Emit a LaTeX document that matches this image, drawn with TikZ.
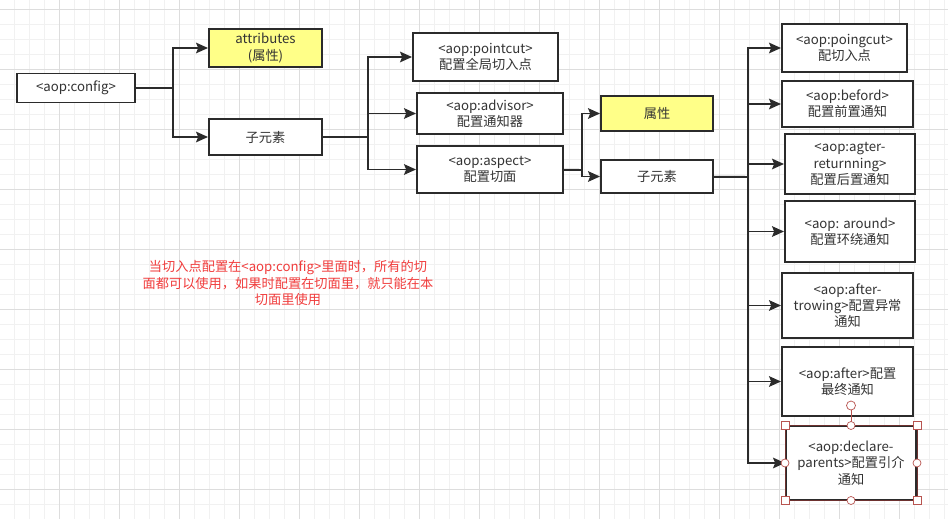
\documentclass[tikz,border=0pt]{standalone}
\usepackage{fontspec}
\setmainfont{Noto Sans CJK SC}
\usepackage{tikz}
\usetikzlibrary{shapes,arrows,arrows.meta,calc}
\definecolor{boxline}{HTML}{2B2B2B}
\definecolor{attrfill}{HTML}{FFFF88}
\definecolor{notered}{HTML}{F03C3C}
\definecolor{gridminor}{HTML}{F1F1F1}
\definecolor{gridmajor}{HTML}{DDDDDD}
\definecolor{selred}{HTML}{B85450}
\tikzstyle{line} = [draw, line width=1.4pt, color=boxline, -{Stealth[length=8.5pt, width=7.5pt, inset=1.5pt]}]
\tikzstyle{wire} = [draw, line width=1.4pt, color=boxline]
\tikzstyle{block} = [draw=boxline, line width=1.4pt, fill=white, rectangle, text centered, align=center, inner sep=1pt, text=black!80, font=\fontsize{9.4pt}{11.6pt}\selectfont]
\tikzstyle{attr} = [block, fill=attrfill]
\tikzstyle{handle} = [draw=selred, fill=white, line width=0.5pt]

\begin{document}
\begin{tikzpicture}[x=0.025cm, y=-0.025cm]
        \useasboundingbox (0,0) rectangle (948,519);
        % background grid
        \foreach \gx in {-1,14,...,948} \draw[gridminor, line width=0.4pt] (\gx,0) -- (\gx,519);
        \foreach \gy in {9,24,...,519} \draw[gridminor, line width=0.4pt] (0,\gy) -- (948,\gy);
        \foreach \gx in {59,119,...,948} \draw[gridmajor, line width=0.4pt] (\gx,0) -- (\gx,519);
        \foreach \gy in {9,69,...,519} \draw[gridmajor, line width=0.4pt] (0,\gy) -- (948,\gy);

        \node[block, minimum width=118*0.025cm, minimum height=29*0.025cm] (config) at (76,88) {<aop:config>};
        \node[attr, minimum width=113*0.025cm, minimum height=38*0.025cm] (attrs) at (265.5,48) {attributes\\(属性)};
        \node[block, minimum width=113*0.025cm, minimum height=36*0.025cm] (sub1) at (265.5,137) {子元素};

        \node[block, minimum width=145*0.025cm, minimum height=48*0.025cm] (pointcut) at (485.5,57) {<aop:pointcut>\\配置全局切入点};
        \node[block, minimum width=146*0.025cm, minimum height=41*0.025cm] (advisor) at (490,113.5) {<aop:advisor>\\配置通知器};
        \node[block, minimum width=146*0.025cm, minimum height=47*0.025cm] (aspect) at (490,169.5) {<aop:aspect>\\配置切面};

        \node[attr, minimum width=112*0.025cm, minimum height=35*0.025cm] (props) at (657,113.5) {属性};
        \node[block, minimum width=112*0.025cm, minimum height=33*0.025cm] (sub2) at (657,176.5) {子元素};

        \node[block, minimum width=125*0.025cm, minimum height=48*0.025cm] (poing) at (844.5,48) {<aop:poingcut>\\配切入点};
        \node[block, minimum width=131*0.025cm, minimum height=46*0.025cm] (before) at (847.5,104) {<aop:beford>\\配置前置通知};
        \node[block, minimum width=130*0.025cm, minimum height=60*0.025cm] (returning) at (850,164) {<aop:agter-\\returnning>\\配置后置通知};
        \node[block, minimum width=130*0.025cm, minimum height=61*0.025cm] (around) at (850,231.5) {<aop: around>\\配置环绕通知};
        \node[block, minimum width=131*0.025cm, minimum height=65*0.025cm] (throwing) at (847.5,305.5) {<aop:after-\\trowing>配置异常\\通知};
        \node[block, minimum width=131*0.025cm, minimum height=69*0.025cm] (after) at (847.5,381.5) {<aop:after>配置\\最终通知};
        \node[block, minimum width=130*0.025cm, minimum height=73*0.025cm] (declare) at (851,463) {<aop:declare-\\parents>配置引介\\通知};

        \node[text=notered, align=center, font=\fontsize{9.4pt}{11.7pt}\selectfont] (note) at (288,283) {当切入点配置在<aop:config>里面时，所有的切\\面都可以使用，如果时配置在切面里，就只能在本\\切面里使用};

        % connectors
        \coordinate (j1) at (173,88);
        \coordinate (j2) at (368,137);
        \coordinate (j3) at (582,170);
        \coordinate (j4) at (748,177);
        \path[wire] (config) -- (j1);
        \path[line] (j1) |- (attrs);
        \path[line] (j1) |- (sub1);
        \path[wire] (sub1) -- (j2);
        \foreach \t in {pointcut,advisor,aspect} \path[line] (j2) |- (\t);
        \path[wire] (aspect) -- (j3);
        \path[line] (j3) |- (props);
        \path[line] (j3) |- (sub2);
        \path[wire] (sub2) -- (j4);
        \foreach \t in {poing,before,returning,around,throwing,after,declare} \path[line] (j4) |- (\t);

        % selection handles
        \draw[selred!60!black, line width=0.6pt] (declare.south west) rectangle (declare.north east);
        \coordinate (rot) at ($(declare.north)+(0,-20)$);
        \draw[selred, line width=0.5pt] (rot) -- (declare.north);
        \draw[handle] (rot) circle (4.5);
        \foreach \h in {north,south,east,west} \draw[handle] (declare.\h) circle (4);
        \foreach \h in {north west,north east,south west,south east} \draw[handle] ($(declare.\h)+(-4,-4)$) rectangle ($(declare.\h)+(4,4)$);
    \end{tikzpicture}
\end{document}
